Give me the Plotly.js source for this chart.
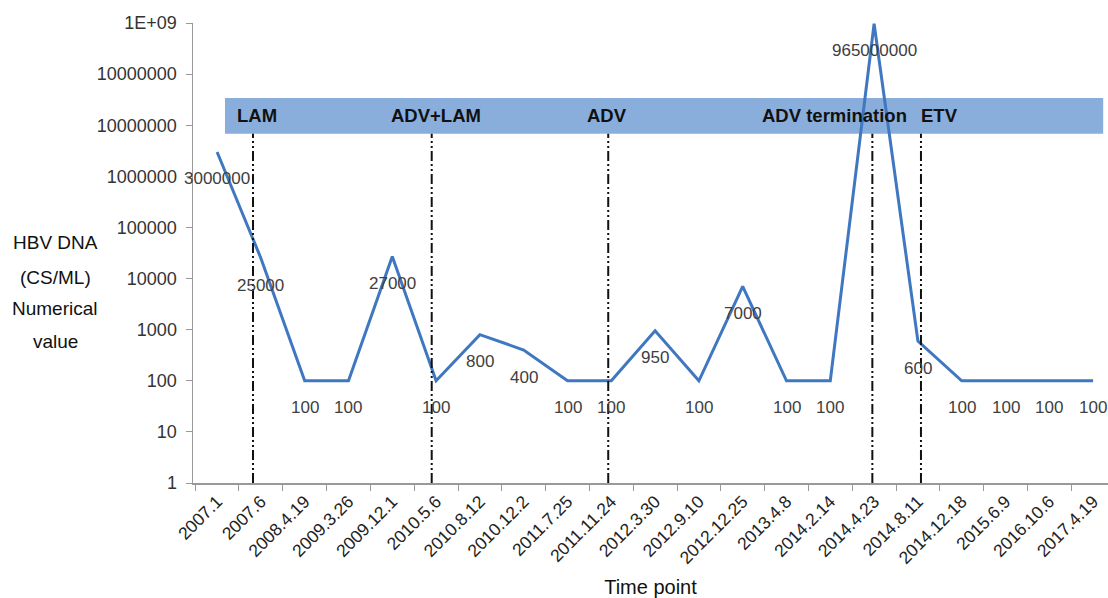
<!DOCTYPE html>
<html>
<head>
<meta charset="utf-8">
<script src="https://cdn.plot.ly/plotly-3.0.1.min.js"></script>
<style>html,body{margin:0;padding:0;background:#fff;}#chart{width:1108px;height:598px;}</style>
</head>
<body>
<div id="chart"></div>
<script>
// ---- data ----
const timePoints = ['2007.1','2007.6','2008.4.19','2009.3.26','2009.12.1','2010.5.6','2010.8.12','2010.12.2','2011.7.25','2011.11.24','2012.3.30','2012.9.10','2012.12.25','2013.4.8','2014.2.14','2014.4.23','2014.8.11','2014.12.18','2015.6.9','2016.10.6','2017.4.19'];
const hbvDna = [3000000, 25000, 100, 100, 27000, 100, 800, 400, 100, 100, 950, 100, 7000, 100, 100, 965000000, 600, 100, 100, 100, 100];
const yTickVals = [1, 10, 100, 1000, 10000, 100000, 1000000, 10000000, 100000000, 1000000000];
const yTickText = ['1','10','100','1000','10000','100000','1000000','10000000','10000000','1E+09'];
const treatments = ['LAM','ADV+LAM','ADV','ADV termination','ETV'];
const treatmentLinePos = [0.82, 4.9, 8.93, 14.96, 16.07];   // category-index positions of switch lines
const treatmentLabelPos = [0.9, 5.0, 8.9, 14.1, 16.5];      // category-index positions of labels
const yTitleLines = ['HBV DNA','(CS/ML)','Numerical','value'];

const FONT = 'Liberation Sans, Arial, sans-serif';
const bandBottom = 0.759, bandTop = 0.837;

const trace = {
  x: timePoints,
  y: hbvDna,
  type: 'scatter',
  mode: 'lines',
  line: {color: '#3f77c0', width: 3},
  hoverinfo: 'x+y'
};

const annotations = [];
timePoints.forEach((t, i) => {
  annotations.push({
    x: i, y: Math.log10(hbvDna[i]), xref: 'x', yref: 'y',
    text: String(hbvDna[i]), showarrow: false, yshift: -27,
    xanchor: 'center', yanchor: 'middle',
    font: {family: FONT, size: 17, color: '#404040'}
  });
});
treatments.forEach((name, i) => {
  annotations.push({
    x: treatmentLabelPos[i], y: (bandBottom + bandTop) / 2, xref: 'x', yref: 'paper',
    text: '<b>' + name + '</b>', showarrow: false,
    xanchor: 'center', yanchor: 'middle',
    font: {family: FONT, size: 18.5, color: '#111'}
  });
});
const yTitleY = [242, 277, 308, 341];
yTitleLines.forEach((s, i) => {
  annotations.push({
    x: (55 - 193) / 915, y: (483 - yTitleY[i]) / 460, xref: 'paper', yref: 'paper',
    text: s, showarrow: false, xanchor: 'center', yanchor: 'middle',
    font: {family: FONT, size: 19, color: '#111'}
  });
});

const shapes = [{
  type: 'rect', xref: 'x', yref: 'paper', x0: 0.18, x1: 20.23, y0: bandBottom, y1: bandTop,
  fillcolor: '#8aaedc', line: {width: 0}, layer: 'below'
}];
treatmentLinePos.forEach(p => {
  shapes.push({
    type: 'line', xref: 'x', yref: 'paper', x0: p, x1: p, y0: 0, y1: bandBottom,
    line: {color: '#111', width: 2, dash: '10px,3px,2px,3px,2px,3px'}
  });
});

const layout = {
  width: 1108, height: 598,
  margin: {l: 193, r: 0, t: 23, b: 115},
  paper_bgcolor: '#fff', plot_bgcolor: '#fff',
  showlegend: false,
  font: {family: FONT, size: 16, color: '#333'},
  xaxis: {
    type: 'category', range: [-0.55, 20.34],
    tickson: 'boundaries', ticks: 'outside', ticklen: 6, tickcolor: '#999',
    showline: true, linecolor: '#999', linewidth: 1.5,
    showgrid: false, zeroline: false, tickangle: -45,
    tickfont: {family: FONT, size: 17.5, color: '#222'},
    title: {text: 'Time point', font: {family: FONT, size: 20, color: '#111'}, standoff: 14}
  },
  yaxis: {
    type: 'log', range: [0, 9],
    tickvals: yTickVals, ticktext: yTickText,
    ticks: 'outside', ticklen: 6, tickcolor: '#999',
    showline: true, linecolor: '#999', linewidth: 1.5,
    showgrid: false, zeroline: false,
    ticklabelstandoff: 5,
    tickfont: {family: FONT, size: 18, color: '#333'}
  },
  annotations: annotations,
  shapes: shapes
};

Plotly.newPlot('chart', [trace], layout, {displayModeBar: false, staticPlot: true});
</script>
</body>
</html>
